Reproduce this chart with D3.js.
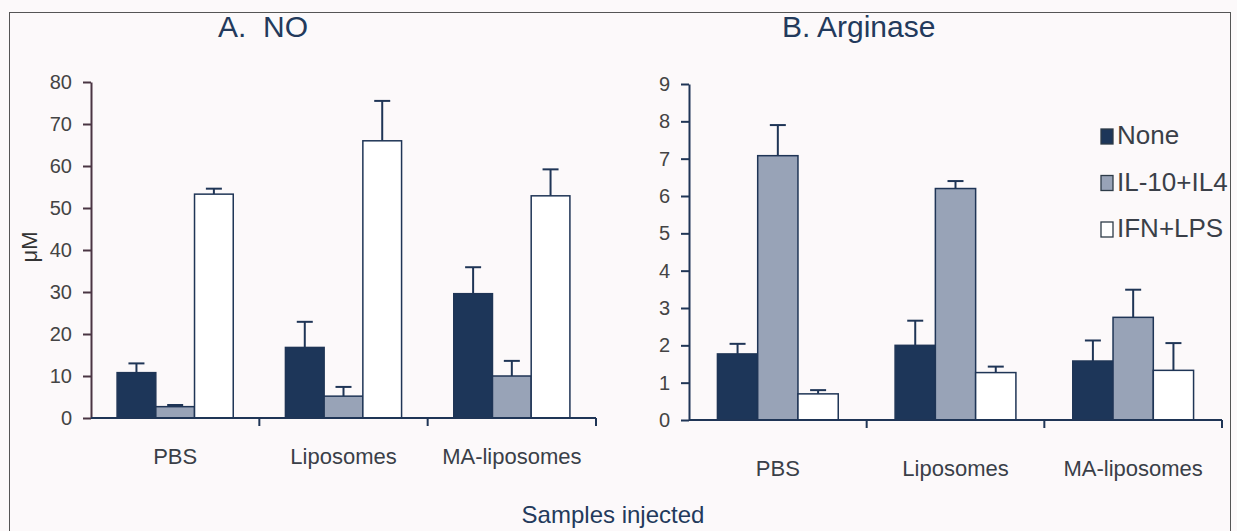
<!DOCTYPE html>
<html>
<head>
<meta charset="utf-8">
<script src="https://cdn.jsdelivr.net/npm/d3@7"></script>
<style>
  body { margin: 0; background: #fff; }
  text { font-family: "Liberation Sans", Arial, sans-serif; }
</style>
</head>
<body>
<script>
// data
var samples = ['PBS', 'Liposomes', 'MA-liposomes'];
var treatments = ['None', 'IL-10+IL4', 'IFN+LPS'];

var noMean = [[10.8, 2.7, 53.3], [16.8, 5.2, 66], [29.6, 10, 52.9]];
var noErr  = [[2.2, 0.4, 1.3], [6.1, 2.2, 9.5], [6.3, 3.6, 6.3]];
var noTicks = [0, 10, 20, 30, 40, 50, 60, 70, 80];

var argMean = [[1.77, 7.08, 0.7], [2.0, 6.2, 1.27], [1.58, 2.75, 1.33]];
var argErr  = [[0.27, 0.82, 0.1], [0.66, 0.2, 0.16], [0.55, 0.74, 0.73]];
var argTicks = [0, 1, 2, 3, 4, 5, 6, 7, 8, 9];

var fills = ['#1d3659', '#98a3b7', '#ffffff'];
var navy = '#1f3556';

var W = 1237, H = 531;
var svg = d3.select('body').append('svg')
  .attr('width', W).attr('height', H);

svg.append('rect').attr('width', W).attr('height', H).attr('fill', '#fcf9fa');
svg.append('rect')
  .attr('x', 9.5).attr('y', 12.5).attr('width', 1221).attr('height', 530)
  .attr('fill', 'none').attr('stroke', '#555').attr('stroke-width', 1);

var drawPanel = (opt) => {
  var g = svg.append('g');
  var x = d3.scaleBand().domain(samples).range([opt.x0, opt.x1]);
  var groupW = x.bandwidth() * (1 - opt.pad);
  var off = (x.bandwidth() - groupW) / 2;
  var bw = groupW / 3;
  var y = d3.scaleLinear().domain([0, opt.max]).range([opt.y0, opt.y1]);

  samples.forEach((s, i) => {
    treatments.forEach((t, j) => {
      var bx = x(s) + off + j * bw;
      var v = opt.mean[i][j], e = opt.err[i][j];
      var cx = bx + bw / 2;
      g.append('line')
        .attr('x1', cx).attr('x2', cx)
        .attr('y1', y(v)).attr('y2', y(v + e))
        .attr('stroke', navy).attr('stroke-width', 2);
      g.append('line')
        .attr('x1', cx - 8).attr('x2', cx + 8)
        .attr('y1', y(v + e)).attr('y2', y(v + e))
        .attr('stroke', navy).attr('stroke-width', 2);
      g.append('rect')
        .attr('x', bx).attr('y', y(v))
        .attr('width', bw).attr('height', y(0) - y(v))
        .attr('fill', fills[j]).attr('stroke', navy).attr('stroke-width', 1.5);
    });
  });

  // y axis
  var ya = g.append('g').attr('transform', 'translate(' + opt.x0 + ',0)')
    .call(d3.axisLeft(y).tickValues(opt.ticks).tickSize(8).tickPadding(11).tickSizeOuter(0));
  ya.attr('font-size', 20).attr('font-family', null);
  ya.select('.domain').attr('stroke', opt.axisColor).attr('stroke-width', 2);
  ya.selectAll('.tick line').attr('stroke', opt.axisColor).attr('stroke-width', 2);
  ya.selectAll('.tick text').attr('fill', '#444').attr('font-size', 20);

  // x axis with ticks at band edges
  var xa = g.append('g').attr('transform', 'translate(0,' + opt.y0 + ')');
  xa.append('line').attr('x1', opt.x0).attr('x2', opt.x1)
    .attr('stroke', navy).attr('stroke-width', 2);
  samples.forEach((s, i) => {
    var ex = x(s) + x.bandwidth();
    xa.append('line').attr('x1', ex).attr('x2', ex).attr('y1', 0).attr('y2', 8)
      .attr('stroke', navy).attr('stroke-width', 2);
    xa.append('text').attr('x', x(s) + x.bandwidth() / 2).attr('y', opt.labelDy)
      .attr('text-anchor', 'middle').attr('fill', '#3a3f48').attr('font-size', 22)
      .text(s);
  });

  svg.append('text').attr('x', opt.titleX).attr('y', 37)
    .attr('fill', '#233a5c').attr('font-size', 30)
    .style('white-space', 'pre').text(opt.title);
};

drawPanel({
  x0: 91, x1: 596, y0: 418, y1: 82, max: 80, pad: 0.31,
  mean: noMean, err: noErr, ticks: noTicks, labelDy: 46,
  axisColor: '#4a3543', title: 'A.  NO', titleX: 218
});

drawPanel({
  x0: 689, x1: 1222, y0: 420, y1: 84, max: 9, pad: 0.32,
  mean: argMean, err: argErr, ticks: argTicks, labelDy: 56,
  axisColor: navy, title: 'B. Arginase', titleX: 782
});

// y label
svg.append('text')
  .attr('transform', 'translate(37,247) rotate(-90)')
  .attr('text-anchor', 'middle').attr('fill', '#333').attr('font-size', 22)
  .text('μM');

// legend
var leg = svg.append('g').attr('transform', 'translate(1101,144)');
treatments.forEach((t, j) => {
  var row = leg.append('g').attr('transform', 'translate(0,' + (j * 46.5) + ')');
  row.append('rect').attr('x', 0).attr('y', -15).attr('width', 12).attr('height', 15)
    .attr('fill', fills[j]).attr('stroke', '#2d3b48').attr('stroke-width', 1.3);
  row.append('text').attr('x', 16).attr('y', 0).attr('fill', '#3a3f48')
    .attr('font-size', 26).text(t);
});

// shared x label
svg.append('text').attr('x', 613).attr('y', 523).attr('text-anchor', 'middle')
  .attr('fill', '#233a5c').attr('font-size', 24).text('Samples injected');
</script>
</body>
</html>
